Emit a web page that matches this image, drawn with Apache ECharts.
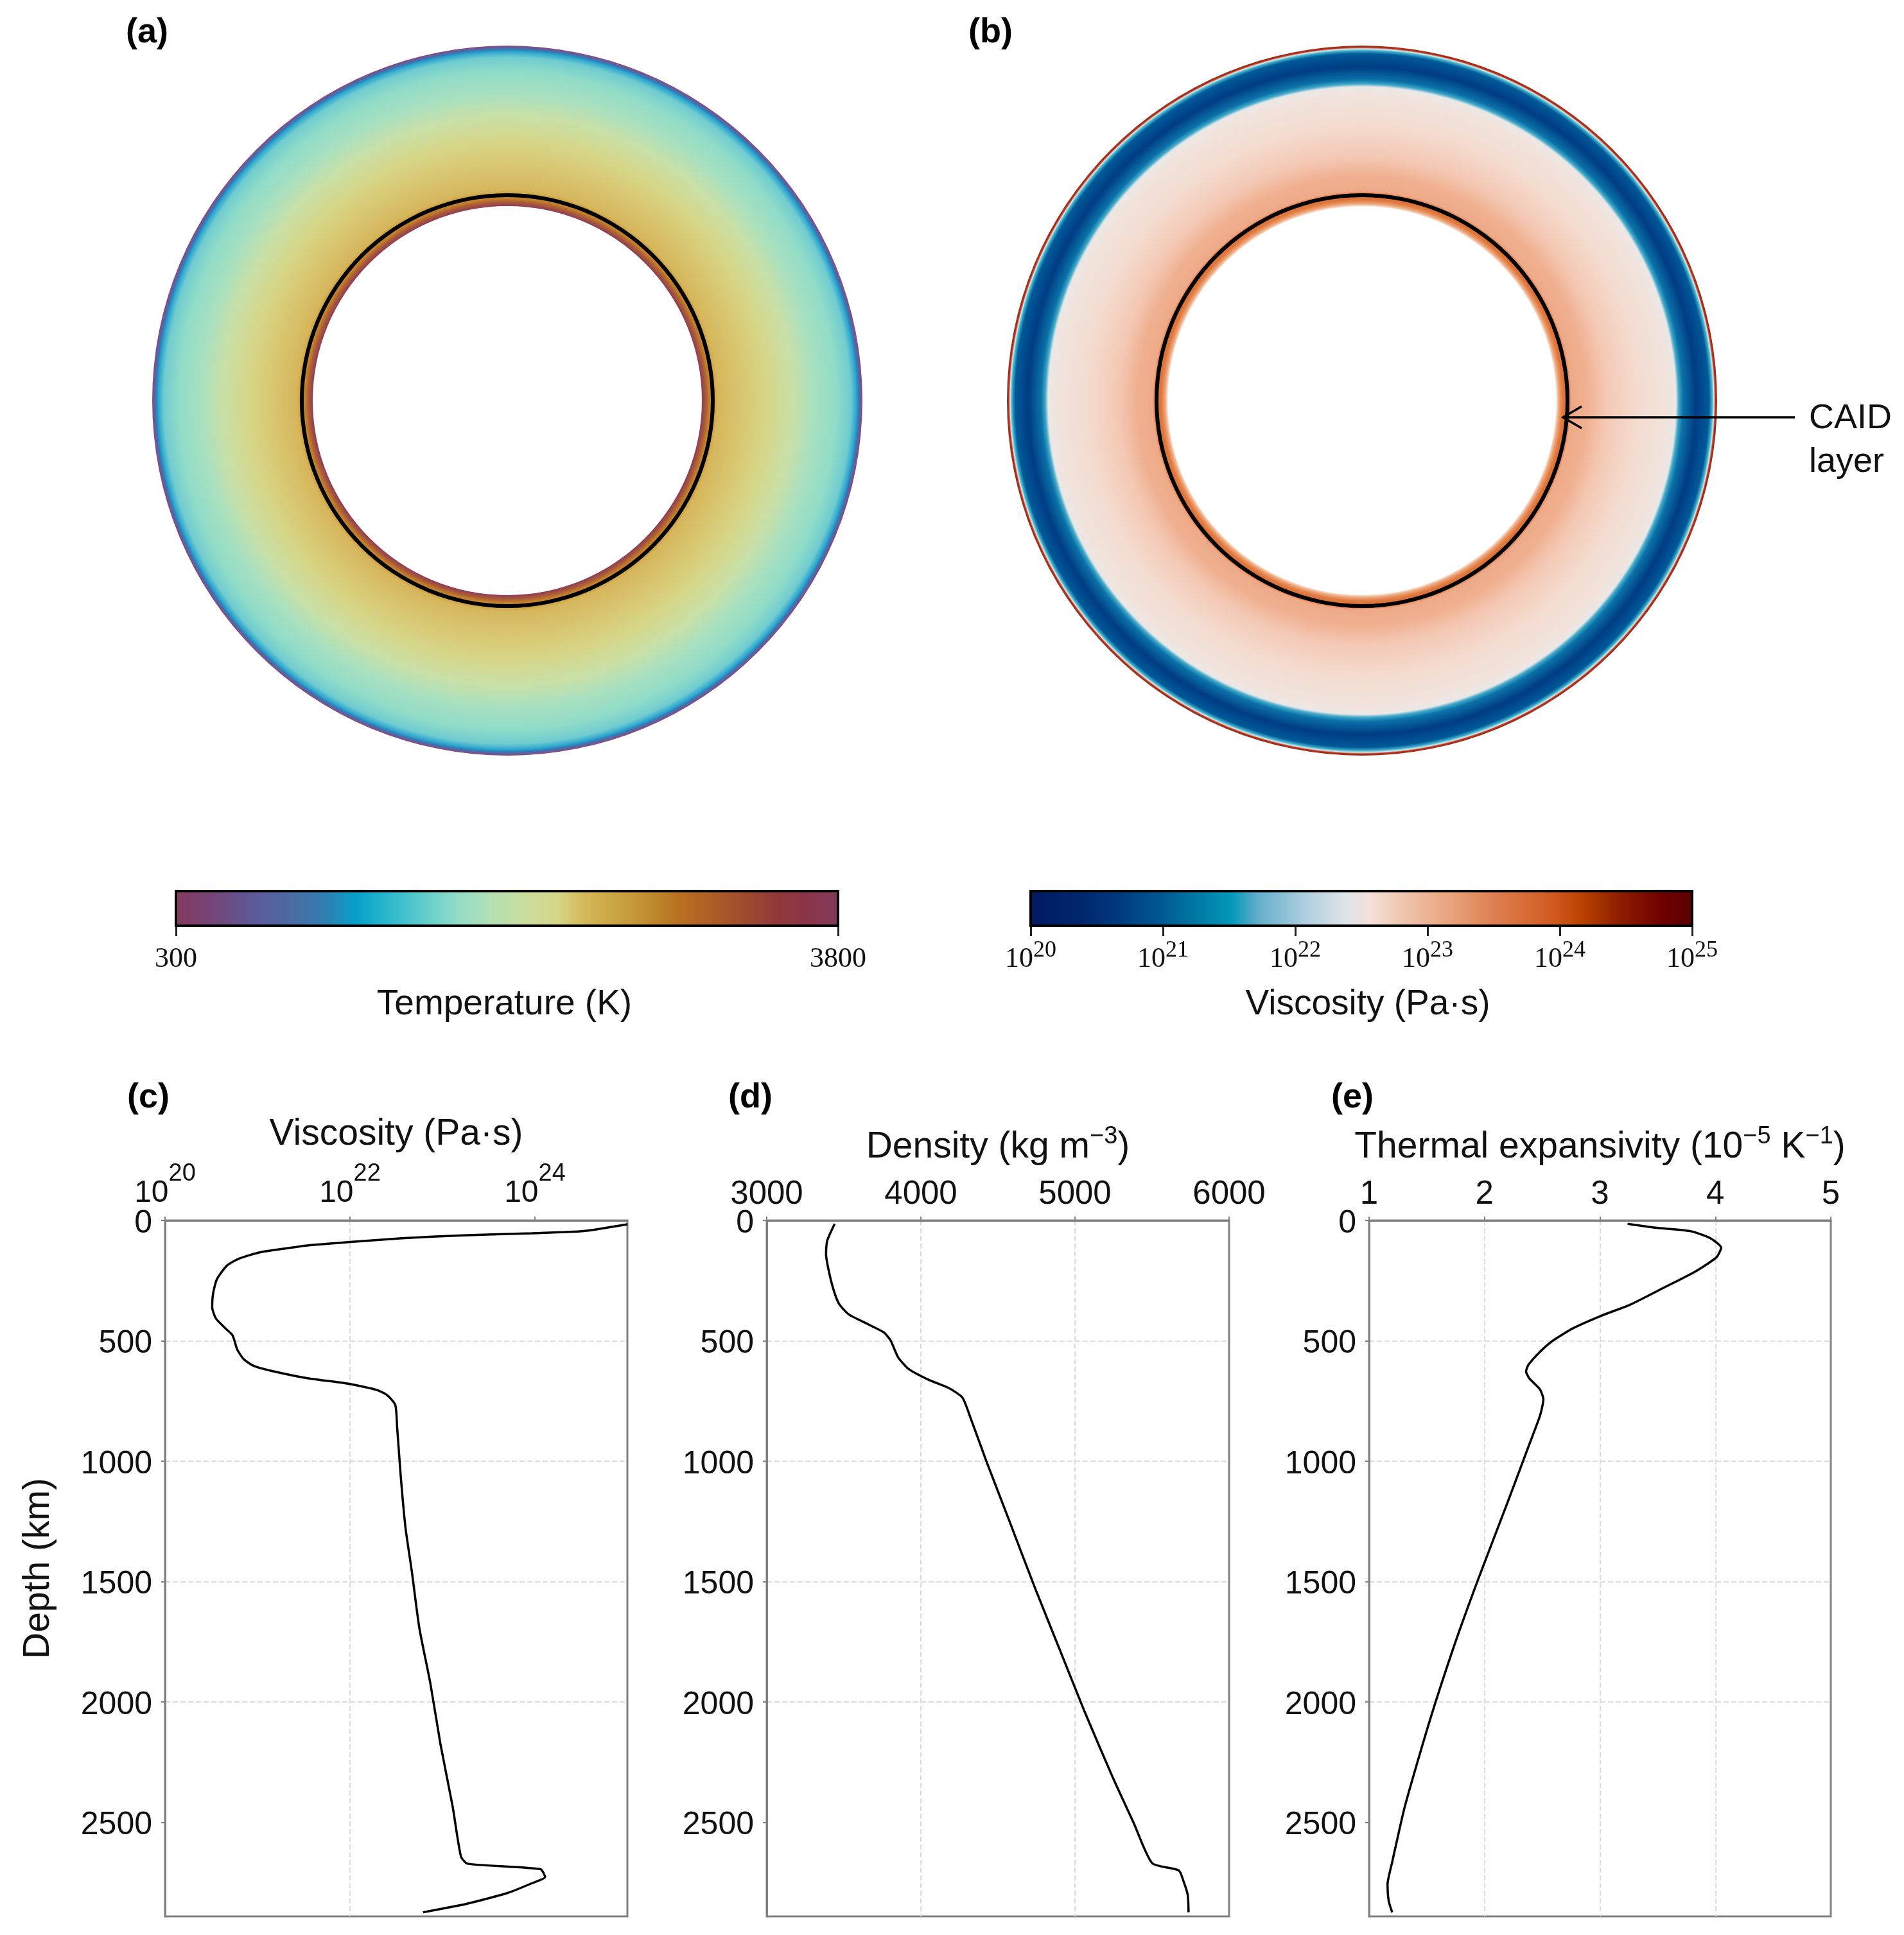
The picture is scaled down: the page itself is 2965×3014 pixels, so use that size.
<!DOCTYPE html>
<html>
<head>
<meta charset="utf-8">
<title>Mantle profiles</title>
<style>html,body{margin:0;padding:0;background:#fff}#chart{width:2965px;height:3014px}</style>
<script src="https://cdn.jsdelivr.net/npm/echarts@6/dist/echarts.min.js"></script>
</head>
<body>
<div id="chart"></div>
<script>
// ---- Depth profiles (c), (d), (e) ----
const viscDepth = [16,44,53,62,74,90,104,118,132,157,187,245,303,361,407,447,477,535,576,604,627,655,678,704,725,766,859,1067,1275,1461,1692,1924,2178,2433,2641,2671,2694,2727,2752,2792,2838,2873];
const viscLog10 = [25.0,24.53,23.97,23.22,22.56,21.98,21.54,21.27,21.03,20.81,20.67,20.56,20.52,20.51,20.55,20.65,20.73,20.78,20.85,20.96,21.18,21.54,21.98,22.29,22.40,22.49,22.51,22.55,22.60,22.67,22.75,22.87,22.98,23.11,23.20,23.27,24.06,24.11,23.97,23.71,23.26,22.79];

const densDepth = [14,83,141,222,303,350,391,430,465,500,569,616,662,697,736,812,998,1264,1530,1785,2039,2317,2502,2669,2699,2745,2803,2873];
const densValue = [3441,3393,3385,3407,3441,3473,3534,3654,3760,3805,3853,3919,4052,4185,4270,4318,4424,4584,4743,4903,5062,5248,5381,5501,5673,5705,5732,5737];

const expaDepth = [14,30,44,72,113,153,211,280,350,396,447,500,546,600,627,657,701,743,812,940,1171,1484,1762,2086,2433,2665,2757,2826,2873];
const expaValue = [3.24,3.48,3.78,3.95,4.05,4.01,3.83,3.55,3.26,3.01,2.77,2.59,2.48,2.38,2.36,2.39,2.48,2.51,2.48,2.38,2.20,1.95,1.74,1.52,1.31,1.20,1.16,1.17,1.20];

// ---- Tick values ----
const depthTicks = [0,500,1000,1500,2000,2500];
const viscTicks = [1e20,1e22,1e24];
const densTicks = [3000,4000,5000,6000];
const expaTicks = [1,2,3,4,5];
const tempBarTicks = [300,3800];
const viscBarTicks = [1e20,1e21,1e22,1e23,1e24,1e25];

// ---- Colour bars: position along the bar and colour ----
const tempBarPos = [0,.056,.118,.18,.229,.272,.322,.384,.427,.476,.538,.576,.617,.70,.76,.821,.903,.944,1];
const tempBarCol = ['#853a5e','#754478','#5d5a98','#4a6ca4','#2f80b4','#04a0c8','#2db8cc','#6ad0cc','#93dcc6','#b4e0b4','#cfdc9a','#d4d688','#d4b858','#c49434','#b87020','#a85a28','#913a3a','#8a3545','#833a5e'];
const viscBarPos = [0,.084,.136,.195,.255,.303,.344,.418,.477,.514,.566,.64,.715,.79,.834,.886,.952,1];
const viscBarCol = ['#001a60','#00286e','#003a7e','#005890','#007aa4','#0098b8','#64aecb','#b0d0e0','#e0e4e8','#f4e0d8','#f0c4ac','#e8a078','#dc7848','#d05a20','#b84000','#902000','#700000','#5a0000'];

// ---- Annuli: fraction of outer radius and colour ----
const tempRingPos = [.548,.559,.568,.579,.593,.669,.732,.805,.864,.926,.967,.982,.989,.995,1];
const tempRingCol = ['#8f3c55','#a85a38','#c07a2a','#c99a3a','#d6b65c','#d9c873','#d6d688','#c8e0a8','#a8e0c0','#90dcc8','#70ccd0','#30a8d0','#2a80b8','#6a5a9a','#884a7c'];
const viscRingPos = [.548,.556,.565,.579,.590,.633,.687,.778,.868,.884,.892,.904,.940,.977,.986,.991,.995,1];
const viscRingCol = ['#f9dcc8','#ec9f72','#e07a40','#d86a30','#eeaa88','#f0b090','#f4c8b4','#f4dcd0','#f0e4de','#e8e8e8','#40a8c8','#0a72a8','#003c82','#005a98','#40b0cc','#d8eae8','#b03020','#a02a10'];

const SANS = 'Liberation Sans', SERIF = 'Liberation Serif';
const TEXT = '#111';
const OUTER = 553, INNER = 303, CAID = [317, 323];
const ringA = [790, 624], ringB = [2121, 624];

const stops = (pos, col) => pos.map((p, i) => ({offset: p, color: col[i]}));

function ring(center, pos, col) {
  return [
    {type:'pie', center, radius:[INNER,OUTER], silent:true, animation:false, label:{show:false}, labelLine:{show:false},
     itemStyle:{color:{type:'radial', x:center[0], y:center[1], r:OUTER, global:true, colorStops:stops(pos,col)}},
     data:[{value:1}]},
    {type:'pie', center, radius:CAID, silent:true, animation:false, z:5, label:{show:false}, labelLine:{show:false},
     itemStyle:{color:'#000'}, data:[{value:1}]}
  ];
}

function barSeries(idx, lo, hi, pos, col) {
  return {
    type:'custom', xAxisIndex:idx, yAxisIndex:idx, clip:false, silent:true, animation:false,
    data:[[lo,hi]],
    renderItem(params, api) {
      const a = api.coord([api.value(0), 0]), b = api.coord([api.value(1), 1]);
      return {type:'rect', shape:{x:a[0], y:b[1], width:b[0]-a[0], height:a[1]-b[1]},
        style:{fill:new echarts.graphic.LinearGradient(0,0,1,0,stops(pos,col)), stroke:'#000', lineWidth:4}};
    }
  };
}

const powerLabel = v => '{b|10}{s|' + Math.round(Math.log10(v)) + '}';
const plain = v => String(v);

const grids = [
  {left:274, top:1388, width:1031, height:54},
  {left:1605, top:1388, width:1030, height:54},
  {left:257, top:1901, width:720, height:1084},
  {left:1194, top:1901, width:720, height:1084},
  {left:2132, top:1901, width:719, height:1084}
].map((g,i) => Object.assign(g, i>1 ? {show:true, borderColor:'#808080', borderWidth:3, backgroundColor:'transparent'} : {}));

const hiddenY = i => ({type:'value', gridIndex:i, min:0, max:1, show:false});

const barAxisBase = {
  position:'bottom', nameLocation:'middle',
  axisLine:{show:false}, splitLine:{show:false},
  axisTick:{length:16, lineStyle:{color:'#222', width:3}}
};

const panelX = {
  position:'top', nameLocation:'middle',
  axisLine:{show:true, onZero:false, lineStyle:{color:'#808080', width:3}},
  axisTick:{show:true, length:6, lineStyle:{color:'#808080', width:2}},
  splitLine:{show:true, showMinLine:false, showMaxLine:false, lineStyle:{color:'#dcdcdc', width:2, type:'dashed'}}
};
const panelXLabel = {fontFamily:SANS, fontSize:51, color:TEXT, margin:15, formatter:plain};
const nameStyle = {fontFamily:SANS, fontSize:57, color:TEXT,
  rich:{t:{fontFamily:SANS, fontSize:57, color:TEXT, padding:[12,0,0,0]}, s:{fontFamily:SANS, fontSize:38, color:TEXT, padding:[0,0,22,0]}}};

const panelY = i => ({
  type:'value', gridIndex:i, inverse:true, min:0, max:2890, interval:500,
  axisLine:{show:true, onZero:false, lineStyle:{color:'#808080', width:3}},
  axisTick:{show:true, length:6, customValues:depthTicks, lineStyle:{color:'#808080', width:2}},
  axisLabel:{margin:20, customValues:depthTicks, formatter:v => '{v|' + v + '}',
    rich:{v:{fontFamily:SANS, fontSize:50, color:TEXT, padding:[10,0,0,0]}}},
  splitLine:{show:true, showMinLine:false, showMaxLine:false, lineStyle:{color:'#dcdcdc', width:2, type:'dashed'}}
});

const curve = (i, xs, ys) => ({
  type:'line', xAxisIndex:i, yAxisIndex:i, data:xs.map((x,k)=>[x,ys[k]]),
  showSymbol:false, symbol:'none', smooth:0.2, animation:false, silent:true, z:4,
  lineStyle:{color:'#000', width:3.5}
});

const option = {
  backgroundColor:'#fff',
  animation:false,
  grid:grids,
  xAxis:[
    Object.assign({}, barAxisBase, {type:'value', gridIndex:0, min:300, max:3800, interval:3500,
      name:'Temperature (K)', nameGap:95,
      nameTextStyle:{fontFamily:SANS, fontSize:55, color:TEXT, padding:[0,8,0,0]},
      axisTick:Object.assign({}, barAxisBase.axisTick, {customValues:tempBarTicks}),
      axisLabel:{fontFamily:SERIF, fontSize:44, color:TEXT, margin:30, customValues:tempBarTicks, formatter:plain}}),
    Object.assign({}, barAxisBase, {type:'log', logBase:10, gridIndex:1, min:1e20, max:1e25,
      name:'Viscosity (Pa·s)', nameGap:95,
      nameTextStyle:{fontFamily:SANS, fontSize:55, color:TEXT, padding:[0,0,0,20]},
      axisTick:Object.assign({}, barAxisBase.axisTick, {customValues:viscBarTicks}),
      axisLabel:{margin:17, customValues:viscBarTicks, formatter:powerLabel,
        rich:{b:{fontFamily:SERIF, fontSize:44, color:TEXT, padding:[13,0,0,0]}, s:{fontFamily:SERIF, fontSize:36, color:TEXT, padding:[0,0,13,0]}}}}),
    Object.assign({}, panelX, {type:'log', logBase:10, gridIndex:2, min:1e20, max:1e25, interval:2,
      name:'Viscosity (Pa·s)', nameGap:105, nameTextStyle:{fontFamily:SANS, fontSize:57, color:TEXT},
      axisTick:Object.assign({}, panelX.axisTick, {customValues:viscTicks}),
      axisLabel:{margin:18, customValues:viscTicks, formatter:powerLabel,
        rich:{b:{fontFamily:SANS, fontSize:48, color:TEXT, padding:[30,0,0,0]}, s:{fontFamily:SANS, fontSize:38, color:TEXT, padding:[0,0,30,0]}}}}),
    Object.assign({}, panelX, {type:'value', gridIndex:3, min:3000, max:6000, interval:1000,
      name:'{t|Density (kg m}{s|−3}{t|)}', nameGap:85, nameTextStyle:nameStyle,
      axisTick:Object.assign({}, panelX.axisTick, {customValues:densTicks}),
      axisLabel:Object.assign({}, panelXLabel, {customValues:densTicks})}),
    Object.assign({}, panelX, {type:'value', gridIndex:4, min:1, max:5, interval:1,
      name:'{t|Thermal expansivity (10}{s|−5}{t| K}{s|−1}{t|)}', nameGap:85, nameTextStyle:nameStyle,
      axisTick:Object.assign({}, panelX.axisTick, {customValues:expaTicks}),
      axisLabel:Object.assign({}, panelXLabel, {customValues:expaTicks})})
  ],
  yAxis:[
    hiddenY(0), hiddenY(1),
    Object.assign(panelY(2), {name:'Depth (km)', nameLocation:'middle', nameGap:168, nameTextStyle:{fontFamily:SANS, fontSize:57, color:TEXT}}),
    panelY(3), panelY(4)
  ],
  series:[
    ...ring(ringA, tempRingPos, tempRingCol),
    ...ring(ringB, viscRingPos, viscRingCol),
    barSeries(0, 300, 3800, tempBarPos, tempBarCol),
    barSeries(1, 1e20, 1e25, viscBarPos, viscBarCol),
    curve(2, viscLog10.map(v => Math.pow(10, v)), viscDepth),
    curve(3, densValue, densDepth),
    curve(4, expaValue, expaDepth)
  ],
  graphic:[
    ...[['(a)',196,51],['(b)',1508,51],['(c)',198,1710],['(d)',1134,1710],['(e)',2073,1710]].map(([t,x,y]) => ({
      type:'text', z:100, style:{text:t, x, y, fill:'#000', font:'bold 54px "Liberation Sans"', textVerticalAlign:'middle'}})),
    {type:'line', z:100, shape:{x1:2795, y1:650, x2:2434, y2:650}, style:{stroke:'#000', lineWidth:3.5}},
    {type:'polyline', z:100, shape:{points:[[2463,633],[2434,650],[2463,667]]}, style:{stroke:'#000', lineWidth:3.5, fill:'none'}},
    {type:'text', z:100, style:{text:'CAID', x:2817, y:652, fill:TEXT, font:'54px "Liberation Sans"', textVerticalAlign:'middle'}},
    {type:'text', z:100, style:{text:'layer', x:2817, y:720, fill:TEXT, font:'54px "Liberation Sans"', textVerticalAlign:'middle'}}
  ]
};

const chart = echarts.init(document.getElementById('chart'), null, {renderer:'canvas', width:2965, height:3014});
chart.setOption(option);
</script>
</body>
</html>
